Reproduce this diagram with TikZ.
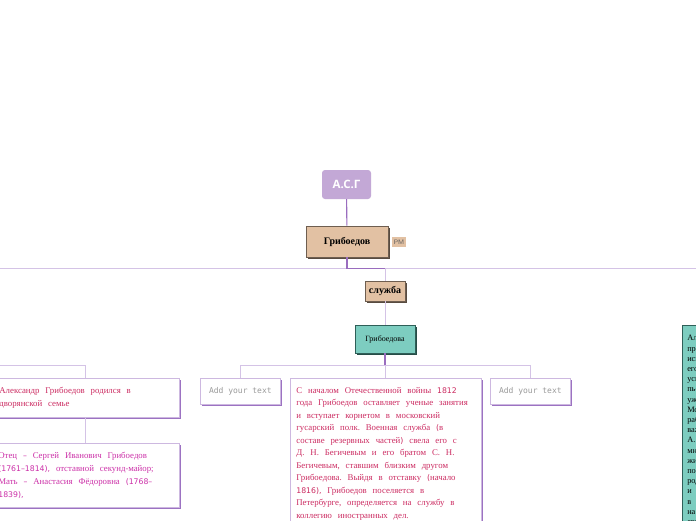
\documentclass[tikz,border=0pt]{standalone}
\usepackage{fontspec}
\setmainfont{Liberation Serif}
\newfontfamily\numf{DejaVu Sans}[Scale=0.88]
\newfontfamily\monof{DejaVu Sans Mono}
\newfontfamily\headf{Open Sans}
\usetikzlibrary{shadows}
\definecolor{tanfill}{HTML}{E2C1A3}
\definecolor{tanborder}{HTML}{6E5E50}
\definecolor{tealfill}{HTML}{7DCDC0}
\definecolor{tealborder}{HTML}{2F5F58}
\definecolor{asgfill}{HTML}{C3A8D6}
\definecolor{boxborder}{HTML}{CDB8E0}
\definecolor{boxshadow}{HTML}{9C72C2}
\definecolor{darkline}{HTML}{9A6DBF}
\definecolor{lightline}{HTML}{D4C3E6}
\definecolor{crimson}{HTML}{CC2C62}
\definecolor{magentatext}{HTML}{CC30A8}
\definecolor{graytext}{HTML}{9A9A9A}
\newcommand{\nm}[1]{{\numf #1}}
\begin{document}
\begin{tikzpicture}[x=1pt,y=-1pt,
  tanbox/.style={draw=tanborder, fill=tanfill, line width=0.6pt, inner sep=0pt,
    general shadow={fill=tanborder!80!black, shadow xshift=1.6pt, shadow yshift=-1.6pt},
    font=\bfseries\fontsize{10}{11}\selectfont},
  tealbox/.style={draw=tealborder, fill=tealfill, line width=0.6pt, inner sep=0pt,
    general shadow={fill=tealborder!80!black, shadow xshift=1.6pt, shadow yshift=-1.6pt}},
  textbox/.style={draw=boxborder, fill=white, line width=0.7pt, anchor=north west,
    general shadow={fill=boxshadow, shadow xshift=1.6pt, shadow yshift=-1.6pt}},
  addbox/.style={textbox, minimum width=80pt, minimum height=26pt, inner sep=0pt,
    font=\monof\fontsize{8}{9}\selectfont, text=graytext},
  dk/.style={draw=darkline, line width=1.1pt},
  lt/.style={draw=lightline, line width=0.9pt}]
\useasboundingbox (0,0) rectangle (696,520);
\clip (0,0) rectangle (696,520);
\fill[white] (0,0) rectangle (696,520);

% nodes
\node[fill=asgfill, rounded corners=3pt, minimum width=49pt, minimum height=29pt, inner sep=0pt,
  text=white, font=\headf\bfseries\fontsize{11.5}{12}\selectfont] (asg) at (346.5,184.5) {А.С.Г};
\node[tanbox, minimum width=82pt, minimum height=31pt] (gr) at (347,241.5) {Грибоедов};
\node[fill=tanfill, minimum width=14pt, minimum height=10pt, inner sep=0pt,
  font=\sffamily\fontsize{6.5}{7}\selectfont, text=black!65] (pm) at (399,242) {PM};
\node[tanbox, minimum width=40pt, minimum height=20pt] (sl) at (385,291) {служба};
\node[tealbox, minimum width=60pt, minimum height=28pt, font=\fontsize{8}{9}\selectfont] (gd) at (385,339) {Грибоедова};

\node[textbox, minimum width=188pt, minimum height=39pt, text width=172pt, inner xsep=8pt, inner ysep=0pt,
  align=left, text=crimson, font=\fontsize{8.8}{12.5}\selectfont] (a1) at (-9,378)
  {Александр\ \ Грибоедов\ \ родился\ \ в\\ дворянской\ \ семье};
\node[textbox, minimum width=188pt, minimum height=64pt, text width=174pt, inner xsep=7pt, inner ysep=0pt,
  align=left, text=magentatext, font=\fontsize{8.8}{12.7}\selectfont] (a2) at (-9,443)
  {Отец\ \ \nm{–}\ \ Сергей\ \ Иванович\ \ Грибоедов\\
   \nm{(1761–1814),}\ \ отставной\ \ секунд\nm{-}майор;\\
   Мать\ \ \nm{–}\ \ Анастасия\ \ Фёдоровна\ \ \nm{(1768–}\\
   \nm{1839),}};
\node[addbox] (add1) at (200,378) {Add your text};
\node[textbox, minimum width=191pt, text width=179pt, inner xsep=6pt, inner ysep=9pt,
  align=left, text=crimson, font=\fontsize{8.8}{12.5}\selectfont] (big) at (290,378)
  {С\ \ началом\ \ Отечественной\ \ войны\ \ \nm{1812}\\
   года\ \ Грибоедов\ \ оставляет\ \ ученые\ \ занятия\\
   и\ \ вступает\ \ корнетом\ \ в\ \ московский\\
   гусарский\ \ полк.\ \ Военная\ \ служба\ \ \nm{(}в\\
   составе\ \ резервных\ \ частей\nm{)}\ \ свела\ \ его\ \ с\\
   Д.\ \ Н.\ \ Бегичевым\ \ и\ \ его\ \ братом\ \ С.\ \ Н.\\
   Бегичевым,\ \ ставшим\ \ близким\ \ другом\\
   Грибоедова.\ \ Выйдя\ \ в\ \ отставку\ \ \nm{(}начало\\
   \nm{1816),}\ \ Грибоедов\ \ поселяется\ \ в\\
   Петербурге,\ \ определяется\ \ на\ \ службу\ \ в\\
   коллегию\ \ иностранных\ \ дел.};
\node[addbox] (add2) at (490,378) {Add your text};
\node[tealbox, anchor=north west, text width=110pt, minimum height=240pt, inner xsep=5pt, inner ysep=10pt,
  align=left, font=\fontsize{8.3}{10.2}\selectfont] (rt) at (682,325)
  {Александр\\ преимущественно\\ искусство\\ его\\ успех\\ пьесы\\ уже\\ Москве\\
   работал\\ важно\\ А.\\ много\\ жизнь\\ после\\ родной\\ и\\ в\\ на\\ его\\ с\\ по\\ в};

% connectors
\coordinate (hl) at (0,268.5);
\coordinate (hr) at (696,268.5);
\coordinate (bus) at (0,365);
\draw[lt] (hl) -- (hr);
\draw[dk] (asg) -- (gr);
\draw[dk] (gr.south) |- (sl.north |- hl);
\draw[lt] (sl.north |- hl) -- (sl.north);
\draw[lt] (sl.south) -- (gd.north);
\draw[dk] (gd.south) -- (gd.south |- bus);
\draw[lt] (add1.north) |- (add2.north |- bus) -- (add2.north);
\draw[lt] (big.north |- bus) -- (big.north);
\draw[lt] (bus) -| (a1.north);
\draw[lt] (a1.south) -- (a2.north);
\end{tikzpicture}
\end{document}
